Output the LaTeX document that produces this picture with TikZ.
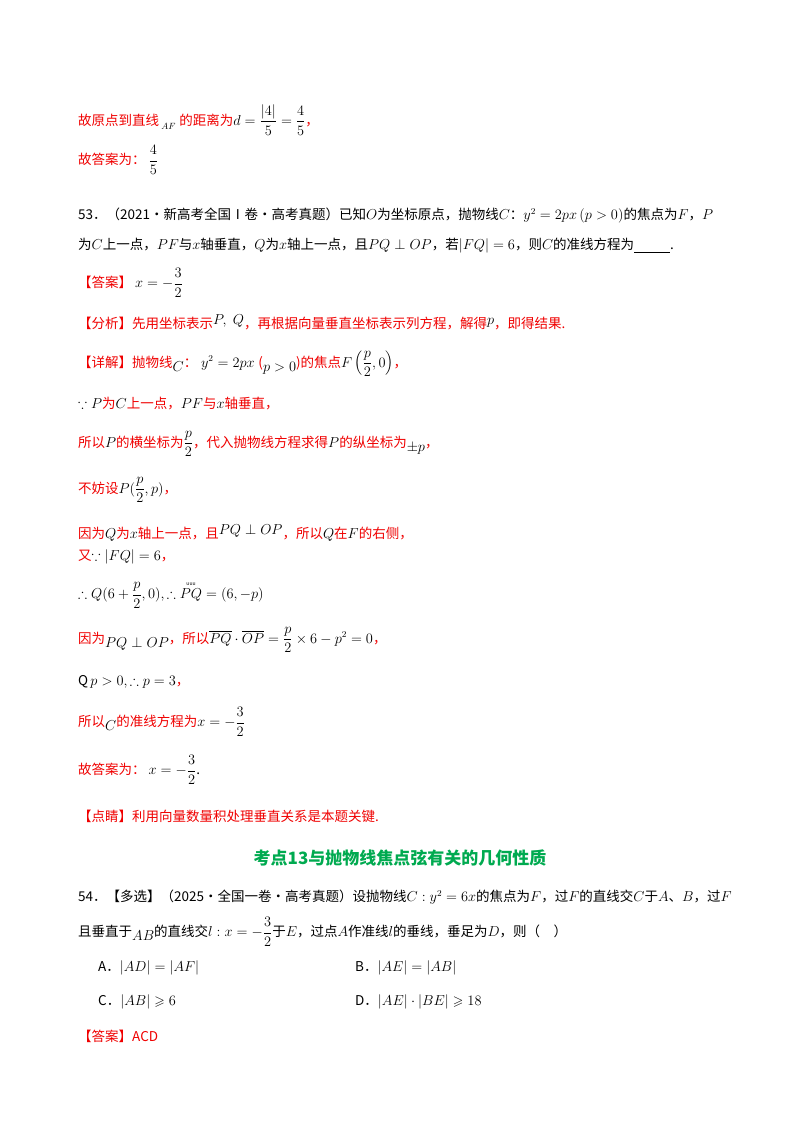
\documentclass[tikz,border=0pt]{standalone}
\usepackage{amsmath,amssymb}
\usepackage{fontspec}
\setmainfont{Noto Sans CJK SC}
\definecolor{rd}{RGB}{240,0,0}
\definecolor{gr}{RGB}{0,170,80}
\newcommand{\R}[1]{{\color{rd}#1}}
\newcommand{\up}[1]{\raisebox{4pt}{$#1$}}
\newcommand{\dn}[1]{\raisebox{-4pt}{$#1$}}
\tikzset{ln/.style={anchor=west,inner sep=0pt,font=\fontsize{13.5}{16}\selectfont}}
\begin{document}
\begin{tikzpicture}[x=1pt,y=-1pt]
\useasboundingbox[fill=white] (0,0) rectangle (800,1132);
\node[ln] (l1) at (78,120) {\R{故原点到直线}\,\dn{\scriptstyle AF}\;\R{的距离为}$d=\dfrac{|4|}{5}=\dfrac{4}{5}$\R{，}};
\node[ln] (l2) at (78,160) {\R{故答案为：} $\dfrac{4}{5}$};
\node[ln] (l3) at (78,216) {53．（2021·新高考全国Ⅰ卷·高考真题）已知$O$为坐标原点，抛物线$C$：$y^2=2px\,(p>0)$的焦点为$F$，$P$};
\node[ln] (l4) at (78,246) {为$C$上一点，$PF$与$x$轴垂直，$Q$为$x$轴上一点，且$PQ\perp OP$，若$|FQ|=6$，则$C$的准线方程为\underline{\hspace{36pt}}.};
\node[ln] (l5) at (78,283) {\R{【答案】} $x=-\dfrac{3}{2}$};
\node[ln] (l6) at (78,322) {\R{【分析】先用坐标表示}\up{P,\;Q}\R{，再根据向量垂直坐标表示列方程，解得}\up{p}\R{，即得结果.}};
\node[ln] (l7) at (78,364) {\R{【详解】抛物线}\dn{C}\R{：}\;$y^2=2px$\;\R{(}\dn{p>0}\R{)的焦点}$F\left(\dfrac{p}{2},0\right)$\R{，}};
\node[ln] (l8) at (78,404) {$\because P$\R{为}$C$\R{上一点，}$PF$\R{与}$x$\R{轴垂直，}};
\node[ln] (l9) at (78,444) {\R{所以}$P$\R{的横坐标为}$\dfrac{p}{2}$\R{，代入抛物线方程求得}$P$\R{的纵坐标为}\dn{\pm p}\R{，}};
\node[ln] (l10) at (78,490) {\R{不妨设}$P(\dfrac{p}{2},p)$\R{，}};
\node[ln] (l11) at (78,533) {\R{因为}$Q$\R{为}$x$\R{轴上一点，且}\up{PQ\perp OP}\R{，所以}$Q$\R{在}$F$\R{的右侧，}};
\node[ln] (l12) at (78,557) {\R{又}$\because|FQ|=6$\R{，}};
\node[ln] (l13) at (78,595) {$\therefore Q(6+\dfrac{p}{2},0),\therefore \overset{\text{\tiny uuu}}{PQ}=(6,-p)$};
\node[ln] (l14) at (78,640) {\R{因为}\dn{PQ\perp OP}\R{，所以}$\overline{PQ}\cdot\overline{OP}=\dfrac{p}{2}\times6-p^2=0$\R{，}};
\node[ln] (l15) at (78,682) {Q\,$p>0,\therefore p=3$\R{，}};
\node[ln] (l16) at (78,722) {\R{所以}\dn{C}\R{的准线方程为}$x=-\dfrac{3}{2}$};
\node[ln] (l17) at (78,770) {\R{故答案为：} $x=-\dfrac{3}{2}$.};
\node[ln] (l18) at (78,816) {\R{【点睛】利用向量数量积处理垂直关系是本题关键.}};
\node[font=\fontsize{17}{20}\selectfont\bfseries,text=gr,inner sep=0pt] (t) at (400,858) {考点13与抛物线焦点弦有关的几何性质};
\node[ln] (l19) at (78,897) {54．【多选】（2025·全国一卷·高考真题）设抛物线$C:y^2=6x$的焦点为$F$，过$F$的直线交$C$于$A$、$B$，过$F$};
\node[ln] (l20) at (78,932) {且垂直于\dn{AB}的直线交$l:x=-\dfrac{3}{2}$于$E$，过点$A$作准线$l$的垂线，垂足为$D$，则（\quad）};
\node[ln] (a) at (98,968) {A．$|AD|=|AF|$};
\node[ln] (b) at (355,968) {B．$|AE|=|AB|$};
\node[ln] (c) at (98,1002) {C．$|AB|\geqslant6$};
\node[ln] (d) at (355,1002) {D．$|AE|\cdot|BE|\geqslant18$};
\node[ln] (l21) at (78,1036) {\R{【答案】ACD}};
\end{tikzpicture}
\end{document}
